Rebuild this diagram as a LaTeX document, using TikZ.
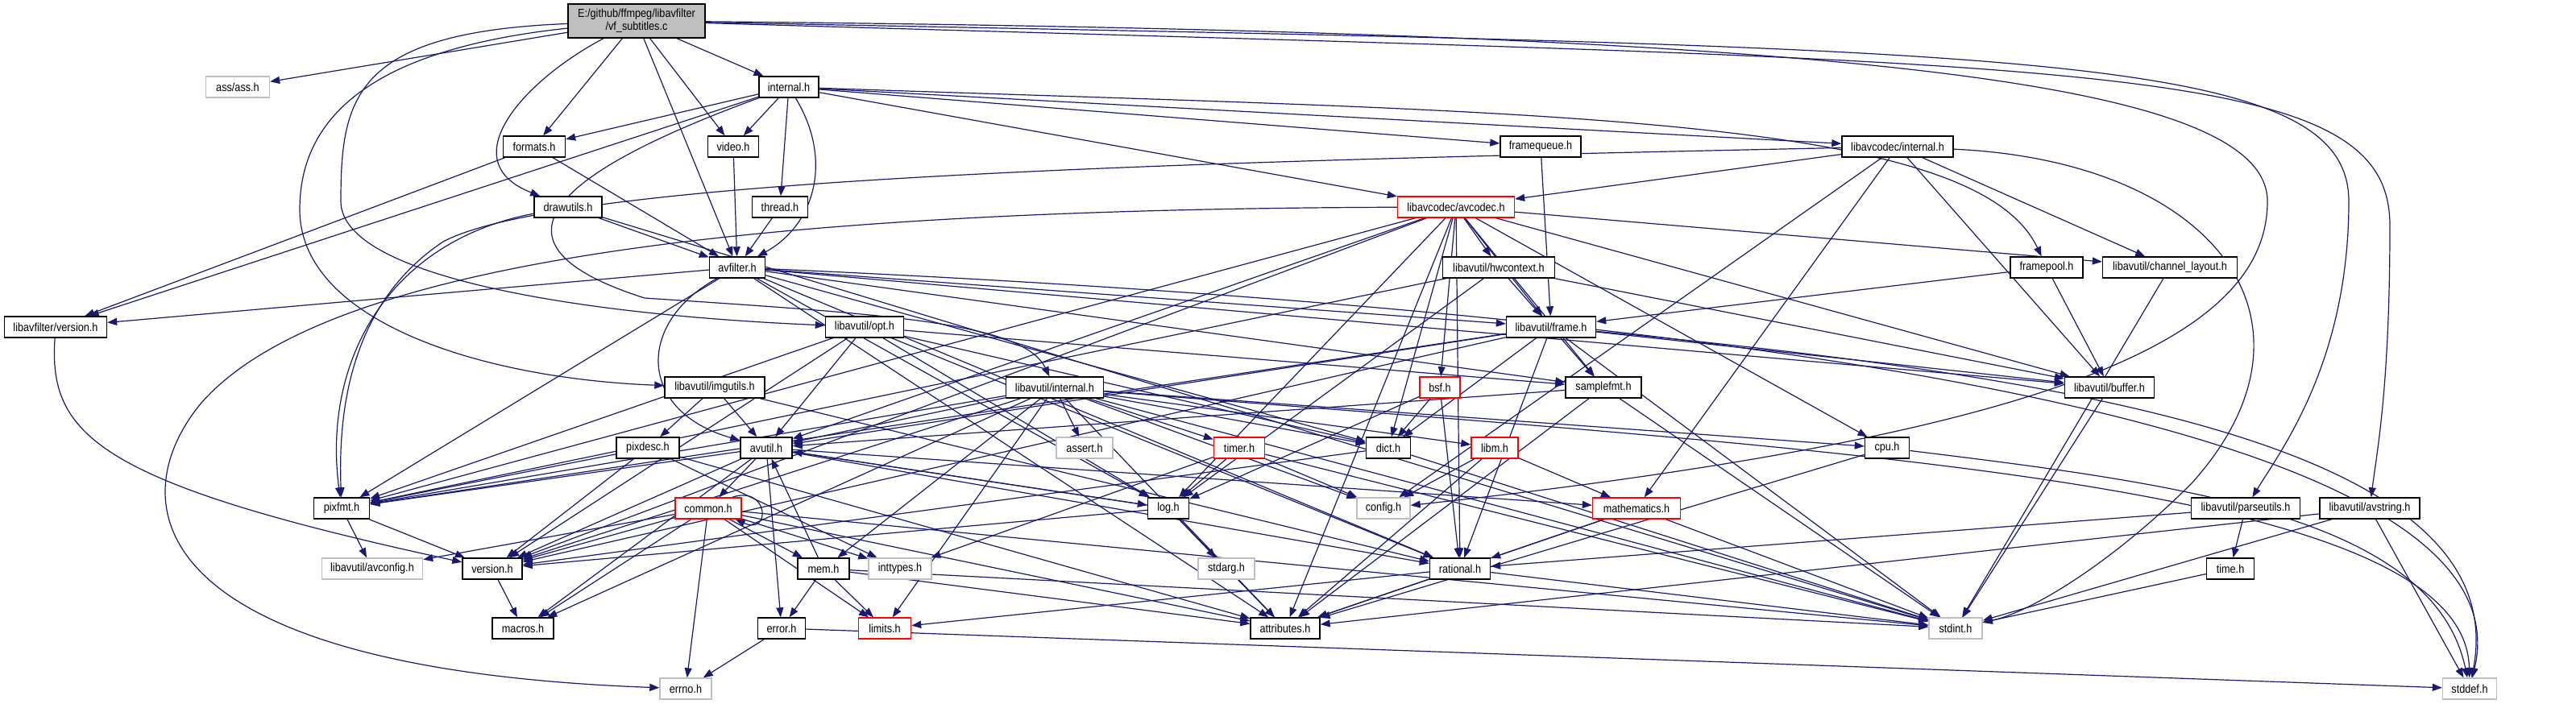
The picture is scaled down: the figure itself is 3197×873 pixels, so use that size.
\documentclass[tikz,border=0pt]{standalone}
\usepackage{fontspec}
\newfontfamily\dfont{Liberation Sans}[FakeStretch=0.875]
\usetikzlibrary{arrows.meta}
\definecolor{edgec}{RGB}{25,25,112}
\definecolor{grayb}{RGB}{191,191,191}
\pgfdeclarelayer{back}
\pgfdeclarelayer{bg}
\pgfsetlayers{back,bg,main}
\begin{document}
\begin{tikzpicture}[x=1pt,y=-1pt,
  box/.style={draw=black, line width=1.4pt, fill=white, minimum height=26pt, inner sep=0pt,
    font=\dfont\fontsize{14.5}{16}\selectfont},
  gbox/.style={box, draw=grayb},
  rbox/.style={box, draw=red},
  e/.style={draw=edgec, line width=1.2pt, -{Triangle[length=12pt,width=9pt]}}]
\begin{pgfonlayer}{back}
\fill[white] (0,0) rectangle (3197,873);
\end{pgfonlayer}
\useasboundingbox (0,0) rectangle (3197,873);
% nodes
\node[box, fill=grayb, minimum width=170pt, minimum height=42pt, align=center] (top) at (790,26) {E:/github/ffmpeg/libavfilter\\/vf\_subtitles.c};
\node[gbox, minimum width=79pt] (assh) at (295,108) {ass/ass.h};
\node[box, minimum width=77pt] (formats) at (663,182) {formats.h};
\node[box, minimum width=84pt] (drawutils) at (705,257) {drawutils.h};
\node[box, minimum width=74pt] (internal) at (979,108) {internal.h};
\node[box, minimum width=63pt] (video) at (910,182) {video.h};
\node[box, minimum width=69pt] (thread) at (968,257) {thread.h};
\node[box, minimum width=100pt] (framequeue) at (1912,182) {framequeue.h};
\node[box, minimum width=138pt] (lavcinternal) at (2355,182) {libavcodec/internal.h};
\node[rbox, minimum width=145pt] (avcodec) at (1807,257) {libavcodec/avcodec.h};
\node[box, minimum width=127pt] (lfversion) at (69,406) {libavfilter/version.h};
\node[box, minimum width=78pt] (pixdesc) at (804,556) {pixdesc.h};
\node[box, minimum width=69pt] (avfilter) at (915,332) {avfilter.h};
\node[box, minimum width=97pt] (opt) at (1073,406) {libavutil/opt.h};
\node[box, minimum width=124pt] (imgutils) at (887,481) {libavutil/imgutils.h};
\node[box, minimum width=121pt] (lavuinternal) at (1309,481) {libavutil/internal.h};
\node[box, minimum width=64pt] (avutil) at (951,556) {avutil.h};
\node[gbox, minimum width=70pt] (assert) at (1346,556) {assert.h};
\node[rbox, minimum width=63pt] (timer) at (1538,556) {timer.h};
\node[box, minimum width=139pt] (hwcontext) at (1860,332) {libavutil/hwcontext.h};
\node[box, minimum width=111pt] (frame) at (1925,406) {libavutil/frame.h};
\node[rbox, minimum width=50pt] (bsf) at (1787,481) {bsf.h};
\node[box, minimum width=94pt] (samplefmt) at (1990,481) {samplefmt.h};
\node[box, minimum width=55pt] (dict) at (1723,556) {dict.h};
\node[rbox, minimum width=58pt] (libm) at (1855,556) {libm.h};
\node[box, minimum width=55pt] (cpu) at (2342,556) {cpu.h};
\node[box, minimum width=90pt] (framepool) at (2540,332) {framepool.h};
\node[box, minimum width=167pt] (chlayout) at (2693,332) {libavutil/channel\_layout.h};
\node[box, minimum width=111pt] (buffer) at (2618,481) {libavutil/buffer.h};
\node[box, minimum width=69pt] (pixfmt) at (424,631) {pixfmt.h};
\node[gbox, minimum width=125pt] (avconfig) at (462,706) {libavutil/avconfig.h};
\node[box, minimum width=74pt] (uversion) at (611,706) {version.h};
\node[box, minimum width=76pt] (macros) at (649,780) {macros.h};
\node[rbox, minimum width=82pt] (common) at (879,631) {common.h};
\node[box, minimum width=64pt] (mem) at (1022,706) {mem.h};
\node[gbox, minimum width=78pt] (inttypes) at (1117,706) {inttypes.h};
\node[box, minimum width=59pt] (error) at (970,780) {error.h};
\node[rbox, minimum width=65pt] (limits) at (1098,780) {limits.h};
\node[gbox, minimum width=64pt] (errno) at (851,855) {errno.h};
\node[box, minimum width=51pt] (log) at (1450,631) {log.h};
\node[gbox, minimum width=70pt] (stdarg) at (1522,706) {stdarg.h};
\node[box, minimum width=86pt] (attributes) at (1595,780) {attributes.h};
\node[gbox, minimum width=66pt] (config) at (1717,631) {config.h};
\node[rbox, minimum width=109pt] (mathematics) at (2031,631) {mathematics.h};
\node[box, minimum width=75pt] (rational) at (1812,706) {rational.h};
\node[gbox, minimum width=66pt] (stdint) at (2427,780) {stdint.h};
\node[box, minimum width=135pt] (parseutils) at (2787,631) {libavutil/parseutils.h};
\node[box, minimum width=124pt] (avstring) at (2941,631) {libavutil/avstring.h};
\node[box, minimum width=59pt] (timeh) at (2768,706) {time.h};
\node[gbox, minimum width=67pt] (stddef) at (3065,855) {stddef.h};
% edges
\begin{pgfonlayer}{bg}
\foreach \a/\b in {
top/assh, top/formats, top/video, top/internal, top/avfilter,
internal/formats, internal/lfversion, internal/video, internal/thread, internal/lavcinternal, internal/framequeue, internal/avcodec,
formats/avfilter, formats/lfversion, video/avfilter, thread/avfilter, drawutils/avfilter, drawutils/stdint,
avfilter/lfversion, avfilter/pixfmt, avfilter/attributes, avfilter/buffer, avfilter/dict, avfilter/frame, avfilter/log, avfilter/samplefmt, avfilter/rational,
avcodec/samplefmt, avcodec/attributes, avcodec/avutil, avcodec/buffer, avcodec/cpu, avcodec/chlayout, avcodec/dict, avcodec/frame, avcodec/hwcontext, avcodec/log, avcodec/pixfmt, avcodec/rational, avcodec/bsf, avcodec/uversion,
lavcinternal/avcodec, lavcinternal/chlayout, lavcinternal/buffer, lavcinternal/mathematics, lavcinternal/config,
framequeue/frame, framepool/buffer, framepool/frame,
hwcontext/buffer, hwcontext/frame, hwcontext/log, hwcontext/pixfmt,
frame/avutil, frame/buffer, frame/dict, frame/rational, frame/samplefmt, frame/pixfmt, frame/uversion, frame/stdint,
opt/rational, opt/avutil, opt/dict, opt/log, opt/pixfmt, opt/samplefmt, opt/uversion,
imgutils/avutil, imgutils/pixdesc, imgutils/rational,
pixdesc/inttypes, pixdesc/attributes, pixdesc/pixfmt, pixdesc/uversion,
lavuinternal/limits, lavuinternal/stdint, lavuinternal/assert, lavuinternal/config, lavuinternal/attributes, lavuinternal/timer, lavuinternal/cpu, lavuinternal/dict, lavuinternal/macros, lavuinternal/mem, lavuinternal/pixfmt, lavuinternal/uversion, lavuinternal/libm, lavuinternal/avutil,
avutil/common, avutil/error, avutil/rational, avutil/uversion, avutil/macros, avutil/mathematics, avutil/log, avutil/pixfmt,
common/errno, common/inttypes, common/limits, common/stdint, common/attributes, common/macros, common/uversion, common/avconfig, common/mem,
mem/limits, mem/stdint, mem/attributes, mem/error, mem/avutil,
error/errno, error/stddef,
log/stdarg, log/avutil, log/attributes, log/uversion,
rational/stdint, rational/limits, rational/attributes,
mathematics/stdint, mathematics/attributes, mathematics/rational,
pixfmt/avconfig, pixfmt/uversion, uversion/macros,
dict/stdint, dict/uversion, buffer/stdint, chlayout/stdint,
cpu/attributes,
samplefmt/stdint, samplefmt/avutil, samplefmt/attributes,
timer/log, timer/config, timer/inttypes, timer/stdint,
libm/config, libm/attributes, libm/mathematics,
bsf/dict, bsf/log, bsf/rational,
parseutils/timeh, parseutils/rational,
avstring/stddef, avstring/stdint, avstring/attributes,
timeh/stdint}
  \draw[e] (\a) -- (\b);
\draw[e] (top) .. controls (650,100) and (560,200) .. (drawutils);
\draw[e] (top) .. controls (440,40) and (423,120) .. (423,250) .. controls (423,340) and (700,390) .. (opt);
\draw[e] (top) .. controls (470,60) and (372,140) .. (372,260) .. controls (372,400) and (600,470) .. (imgutils);
\draw[e] (top) .. controls (2300,40) and (2814,100) .. (2814,250) .. controls (2814,420) and (2550,540) .. (config);
\draw[e] (top) .. controls (2500,60) and (2915,60) .. (2915,250) .. controls (2915,450) and (2830,560) .. (parseutils);
\draw[e] (top) .. controls (2600,80) and (2966,70) .. (2966,280) .. controls (2966,480) and (2950,560) .. (avstring);
\draw[e] (internal) .. controls (700,210) and (580,300) .. (800,370) .. controls (1100,390) and (1270,400) .. (lavuinternal);
\draw[e] (internal) .. controls (1035,200) and (1010,280) .. (avfilter);
\draw[e] (internal) .. controls (1900,140) and (2450,140) .. (framepool);
\draw[e] (avfilter) .. controls (790,400) and (790,510) .. (avutil);
\draw[e] (avfilter) .. controls (2000,380) and (3150,500) .. (stddef);
\draw[e] (frame) .. controls (2600,470) and (3120,560) .. (stddef);
\draw[e] (cpu) .. controls (2700,600) and (3020,640) .. (stddef);
\draw[e] (lavuinternal) .. controls (2300,560) and (3060,600) .. (stddef);
\draw[e] (avcodec) .. controls (900,260) and (400,330) .. (250,500) .. controls (150,620) and (170,830) .. (errno);
\draw[e] (lavcinternal) .. controls (2750,200) and (2900,400) .. (2720,600) .. controls (2620,700) and (2520,760) .. (stdint);
\draw[e] (lavcinternal) .. controls (1500,200) and (700,220) .. (550,300) .. controls (430,380) and (420,520) .. (pixfmt);
\draw[e] (drawutils) .. controls (480,300) and (400,450) .. (pixfmt);
\draw[e] (lfversion) .. controls (60,540) and (120,600) .. (uversion);
\draw[e] ([xshift=-12pt]common.north east) .. controls +(45,-15) and +(45,20) .. ([xshift=-8pt]common.south east);
\end{pgfonlayer}
\end{tikzpicture}
\end{document}
